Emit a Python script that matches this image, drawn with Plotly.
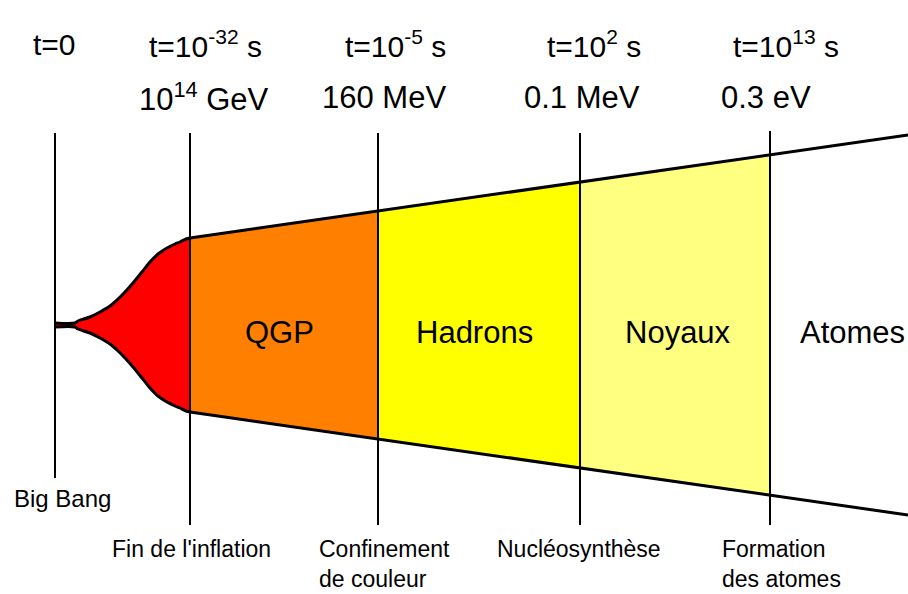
import plotly.graph_objects as go

# ---- data (diagram coordinates, pixel-like units) ----
epoch_x = [55, 190, 378, 580, 770]               # transition positions
epoch_time = ["t=0", "t=10<sup>-32</sup> s", "t=10<sup>-5</sup> s", "t=10<sup>2</sup> s", "t=10<sup>13</sup> s"]
epoch_time_x = [54, 205, 395, 594, 786]
energy_labels = ["10<sup>14</sup> GeV", "160 MeV", "0.1 MeV", "0.3 eV"]
energy_x = [204, 384, 582, 766]
event_labels = ["Big Bang", "Fin de l'inflation", "Confinement<br>de couleur", "Nucléosynthèse", "Formation<br>des atomes"]
event_x = [62, 191, 318, 579, 721]
event_anchor = ["center", "center", "left", "center", "left"]
line_top = [133, 133, 133, 133, 131]
line_bottom = [478, 525, 525, 525, 525]

center_y = 325
# inflation bulge (red): x and half-width of the envelope
infl_x = [55, 75, 78, 90, 100, 110, 117, 125, 133, 142, 150, 158, 167, 175, 180, 186, 190]
infl_hw = [2, 2, 4, 8, 13, 19, 25, 33, 42, 53, 63, 71, 77, 81, 83, 86, 87]
# linear expansion afterwards: half-width at each boundary and the right edge
exp_x = [190, 378, 580, 770, 908]
exp_hw = [87, 114, 143, 170, 190]

phases = ["QGP", "Hadrons", "Noyaux", "Atomes"]
phase_x = [279, 474, 678, 852]
phase_colors = ["#FF8000", "#FFFF00", "#FFFF80", "#FFFFFF"]

fig = go.Figure()

# red inflation region
ux = infl_x + infl_x[::-1]
uy = [center_y - h for h in infl_hw] + [center_y + h for h in infl_hw[::-1]]
fig.add_trace(go.Scatter(x=ux, y=uy, fill="toself", fillcolor="#FF0000",
                         line=dict(color="rgba(0,0,0,0)", width=0, shape="spline"),
                         mode="lines", hoverinfo="skip", showlegend=False))

# phase regions
for i in range(4):
    x0, x1 = exp_x[i], exp_x[i + 1]
    h0, h1 = exp_hw[i], exp_hw[i + 1]
    fig.add_trace(go.Scatter(x=[x0, x1, x1, x0, x0],
                             y=[center_y - h0, center_y - h1, center_y + h1, center_y + h0, center_y - h0],
                             fill="toself", fillcolor=phase_colors[i],
                             line=dict(width=0, color="rgba(0,0,0,0)"),
                             mode="lines", hoverinfo="skip", showlegend=False))

# envelope outlines
for sign in (-1, 1):
    fig.add_trace(go.Scatter(x=infl_x, y=[center_y + sign * h for h in infl_hw],
                             mode="lines", line=dict(color="black", width=3, shape="spline"),
                             hoverinfo="skip", showlegend=False))
    fig.add_trace(go.Scatter(x=exp_x, y=[center_y + sign * h for h in exp_hw],
                             mode="lines", line=dict(color="black", width=3),
                             hoverinfo="skip", showlegend=False))

# vertical epoch lines
for x, t, b in zip(epoch_x, line_top, line_bottom):
    fig.add_trace(go.Scatter(x=[x, x], y=[t, b], mode="lines",
                             line=dict(color="black", width=2),
                             hoverinfo="skip", showlegend=False))

font = "Liberation Sans, Arial, sans-serif"
ann = []
for x, t in zip(epoch_time_x, epoch_time):
    ann.append(dict(x=x, y=44, text=t, showarrow=False, xanchor="center", yanchor="middle",
                    font=dict(family=font, size=30, color="black")))
for x, t in zip(energy_x, energy_labels):
    ann.append(dict(x=x, y=97, text=t, showarrow=False, xanchor="center", yanchor="middle",
                    font=dict(family=font, size=31, color="black")))
for x, t in zip(phase_x, phases):
    ann.append(dict(x=x, y=332, text=t, showarrow=False, xanchor="center", yanchor="middle",
                    font=dict(family=font, size=31, color="black")))
for i, (x, t, a) in enumerate(zip(event_x, event_labels, event_anchor)):
    if i == 0:
        ann.append(dict(x=x, y=498, text=t, showarrow=False, xanchor=a, yanchor="middle",
                        borderpad=0, font=dict(family=font, size=24, color="black")))
    else:
        ann.append(dict(x=x, y=535, text=t, showarrow=False, xanchor=a, yanchor="top",
                        align="left", borderpad=0,
                        font=dict(family=font, size=23, color="black")))

fig.update_layout(
    width=908, height=594,
    margin=dict(l=0, r=0, t=0, b=0),
    paper_bgcolor="white", plot_bgcolor="white",
    xaxis=dict(range=[0, 908], visible=False, fixedrange=True),
    yaxis=dict(range=[594, 0], visible=False, fixedrange=True),
    annotations=ann,
    showlegend=False,
)

fig.write_html("out.html", config={"displayModeBar": False},
               post_script="document.body.style.margin='0';")
